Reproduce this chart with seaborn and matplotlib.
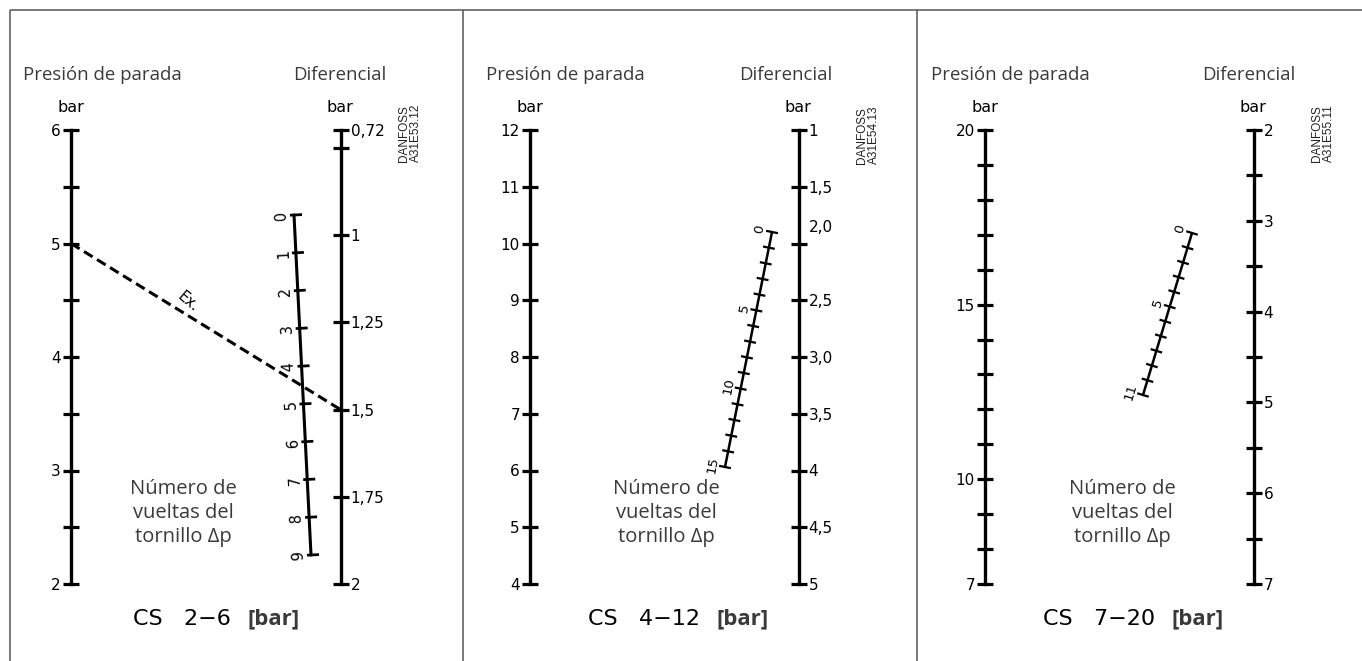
import numpy as np
import matplotlib
matplotlib.use("Agg")
import matplotlib.pyplot as plt
from matplotlib.patches import ConnectionPatch
from matplotlib.transforms import ScaledTranslation
import seaborn as sns

# ---- values ----
# CS 2-6
stop_ticks_26 = [2, 2.5, 3, 3.5, 4, 4.5, 5, 5.5, 6]
stop_labels_26 = ["2", "", "3", "", "4", "", "5", "", "6"]
diff_ticks_26 = [0.75, 1, 1.25, 1.5, 1.75, 2]
diff_labels_26 = ["", "1", "1,25", "1,5", "1,75", "2"]
diff_end_26 = "0,72"
turns_26 = [0, 1, 2, 3, 4, 5, 6, 7, 8, 9]
turn_labels_26 = [0, 1, 2, 3, 4, 5, 6, 7, 8, 9]

# CS 4-12
stop_ticks_412 = [4, 5, 6, 7, 8, 9, 10, 11, 12]
stop_labels_412 = ["4", "5", "6", "7", "8", "9", "10", "11", "12"]
diff_ticks_412 = [1, 1.5, 2, 2.5, 3, 3.5, 4, 4.5, 5]
diff_labels_412 = ["1", "1,5", "2,0", "2,5", "3,0", "3,5", "4", "4,5", "5"]
turns_412 = [0, 1, 2, 3, 4, 5, 6, 7, 8, 9, 10, 11, 12, 13, 14, 15]
turn_labels_412 = [0, 5, 10, 15]

# CS 7-20
stop_ticks_720 = [7, 8, 9, 10, 11, 12, 13, 14, 15, 16, 17, 18, 19, 20]
stop_labels_720 = ["7", "", "", "10", "", "", "", "", "15", "", "", "", "", "20"]
diff_ticks_720 = [2, 2.5, 3, 3.5, 4, 4.5, 5, 5.5, 6, 6.5, 7]
diff_labels_720 = ["2", "", "3", "", "4", "", "5", "", "6", "", "7"]
turns_720 = [0, 1, 2, 3, 4, 5, 6, 7, 8, 9, 10, 11]
turn_labels_720 = [0, 5, 11]

ranges = ["2−6", "4−12", "7−20"]
drawing_codes = ["A31E53.12", "A31E54.13", "A31E55.11"]

# worked example on CS 2-6
example_stop = 5
example_diff = 1.5

W, H = 1362, 661
TOP, BOTTOM = 130, 584
TEXT_FONT = ["Open Sans", "DejaVu Sans"]
ISO_FONT = ["DejaVu Sans"]
GREY = "#3a3a3a"

panels = [
    dict(stop_x=71, diff_x=340, stop_lim=(2, 6), diff_lim=(2, 0.698),
         stop_ticks=stop_ticks_26, stop_labels=stop_labels_26,
         diff_ticks=diff_ticks_26, diff_labels=diff_labels_26, diff_end=diff_end_26,
         turns=turns_26, turn_labels=turn_labels_26,
         t_top=(294, 215), t_bot=(311, 555), span=(-4, 8), gap=5, tfs=10.5, tlw=2.2,
         title_x=23, dtitle_x=293, note_x=183, cs_x=133, code_xy=(410, 133)),
    dict(stop_x=530, diff_x=798, stop_lim=(4, 12), diff_lim=(5, 1),
         stop_ticks=stop_ticks_412, stop_labels=stop_labels_412,
         diff_ticks=diff_ticks_412, diff_labels=diff_labels_412, diff_end=None,
         turns=turns_412, turn_labels=turn_labels_412,
         t_top=(772, 232), t_bot=(725, 467), span=(-6, 6), gap=6, tfs=9.5, tlw=1.8,
         title_x=486, dtitle_x=739, note_x=666, cs_x=588, code_xy=(868, 135)),
    dict(stop_x=985, diff_x=1253, stop_lim=(7, 20), diff_lim=(7, 2),
         stop_ticks=stop_ticks_720, stop_labels=stop_labels_720,
         diff_ticks=diff_ticks_720, diff_labels=diff_labels_720, diff_end=None,
         turns=turns_720, turn_labels=turn_labels_720,
         t_top=(1192, 233), t_bot=(1143, 395), span=(-6, 6), gap=6, tfs=9.5, tlw=1.8,
         title_x=931, dtitle_x=1202, note_x=1122, cs_x=1043, code_xy=(1323, 133)),
]

sns.set_style("white")
plt.rcParams["font.family"] = ["DejaVu Sans"]

fig = plt.figure(figsize=(W / 100, H / 100), dpi=100)
ax = fig.add_axes([0, 0, 1, 1])
ax.set_xlim(0, W)
ax.set_ylim(H, 0)
ax.axis("off")

# frame
frame_kw = dict(color="#555555", lw=1.1, solid_capstyle="butt")
ax.plot([10, W], [10, 10], **frame_kw)
for fx in [10, 463, 917]:
    ax.plot([fx, fx], [10, H], **frame_kw)


def vertical_scale(x, lim, ticks, labels, side):
    sax = fig.add_axes([x / W, 1 - BOTTOM / H, 0.6 / W, (BOTTOM - TOP) / H])
    sax.set_ylim(*lim)
    sax.patch.set_visible(False)
    for s in sax.spines.values():
        s.set_visible(False)
    sax.spines[side].set_visible(True)
    sax.spines[side].set_color("black")
    sax.spines[side].set_linewidth(2.4)
    sax.set_xticks([])
    sax.yaxis.set_ticks_position(side)
    sax.set_yticks(ticks)
    sax.set_yticklabels(labels)
    sax.tick_params(axis="y", direction="inout", length=11.5, width=2.3,
                    pad=1.5, labelsize=11, colors="black")
    return sax


for i, p in enumerate(panels):
    ax_stop = vertical_scale(p["stop_x"], p["stop_lim"], p["stop_ticks"],
                             p["stop_labels"], "left")
    dticks, dlabels = list(p["diff_ticks"]), list(p["diff_labels"])
    if p["diff_end"]:
        dticks = [p["diff_lim"][1]] + dticks
        dlabels = [p["diff_end"]] + dlabels
    ax_diff = vertical_scale(p["diff_x"], p["diff_lim"], dticks, dlabels, "right")
    p["ax_stop"], p["ax_diff"] = ax_stop, ax_diff

    # the "2,0" label sits above its tick in the original drawing
    for lab in ax_diff.get_yticklabels():
        if lab.get_text() == "2,0":
            lab.set_transform(lab.get_transform()
                              + ScaledTranslation(0, 0.17, fig.dpi_scale_trans))

    # headings
    ax.text(p["title_x"], 75, "Presión de parada", fontsize=13.4, family=TEXT_FONT,
            color=GREY, va="center", ha="left")
    ax.text(p["dtitle_x"], 75, "Diferencial", fontsize=13.4, family=TEXT_FONT,
            color=GREY, va="center", ha="left")
    for bx in [p["stop_x"], p["diff_x"]]:
        ax.text(bx, 108, "bar", fontsize=11.5, family=ISO_FONT, color="black",
                va="center", ha="center")
    ax.text(p["code_xy"][0], p["code_xy"][1], "DANFOSS\n" + drawing_codes[i],
            rotation=90, fontsize=8.5, family=["Liberation Sans"],
            va="center", ha="center", multialignment="left", linespacing=0.9,
            color="#222222")

    ax.text(p["note_x"], 513, "Número de\nvueltas del\ntornillo Δp", fontsize=14.5,
            family=TEXT_FONT, color=GREY, ha="center", va="center", linespacing=1.25)

    t = ax.text(p["cs_x"], 619, "CS   " + ranges[i], fontsize=16, family=ISO_FONT,
                color="black", va="center", ha="left")
    ax.annotate("[bar]", xy=(1, 0.5), xycoords=t, xytext=(12, 0),
                textcoords="offset points", fontsize=16, fontweight="bold",
                family=TEXT_FONT, color=GREY, va="center", ha="left")

    # slanted screw-turn scale
    p0, p1 = np.array(p["t_top"], float), np.array(p["t_bot"], float)
    seg = p1 - p0
    d = seg / np.linalg.norm(seg)
    n = np.array([d[1], -d[0]])
    turns = np.array(p["turns"], float)
    frac = (turns - turns[0]) / (turns[-1] - turns[0])
    pts = p0 + frac[:, None] * seg
    sns.lineplot(x=[p0[0], p1[0]], y=[p0[1], p1[1]], ax=ax, color="black",
                 lw=p["tlw"], sort=False, estimator=None)
    for pt in pts:
        a, b = pt + n * p["span"][0], pt + n * p["span"][1]
        ax.plot([a[0], b[0]], [a[1], b[1]], color="black", lw=p["tlw"] * 0.9,
                solid_capstyle="butt")
    rot = np.degrees(np.arctan2(-(p0[1] - p1[1]), p0[0] - p1[0]))
    for tv, pt in zip(turns, pts):
        if int(tv) in p["turn_labels"]:
            lp = pt - n * p["gap"]
            ax.text(lp[0], lp[1], str(int(tv)), fontsize=p["tfs"], family=ISO_FONT,
                    rotation=rot, rotation_mode="anchor", ha="center", va="bottom",
                    color="black")

ax.set_xlim(0, W)
ax.set_ylim(H, 0)

# worked example: 5 bar stop pressure with 1.5 bar differential
p = panels[0]
con = ConnectionPatch(xyA=(0, example_stop), coordsA=p["ax_stop"].get_yaxis_transform(),
                      xyB=(1, example_diff), coordsB=p["ax_diff"].get_yaxis_transform(),
                      color="black", lw=2.2, linestyle=(0, (3.3, 1.7)), capstyle="butt")
fig.add_artist(con)

inv = ax.transData.inverted()
A = inv.transform(p["ax_stop"].get_yaxis_transform().transform((0, example_stop)))
B = inv.transform(p["ax_diff"].get_yaxis_transform().transform((1, example_diff)))
v = B - A
u = v / np.linalg.norm(v)
perp = np.array([u[1], -u[0]])
mid = A + 0.41 * v + perp * 12
ax.text(mid[0], mid[1], "Ex.", fontsize=10.5, family=ISO_FONT, rotation=-40,
        rotation_mode="anchor", ha="center", va="center", color="black")

fig.savefig("out.png", dpi=100, facecolor="white")
